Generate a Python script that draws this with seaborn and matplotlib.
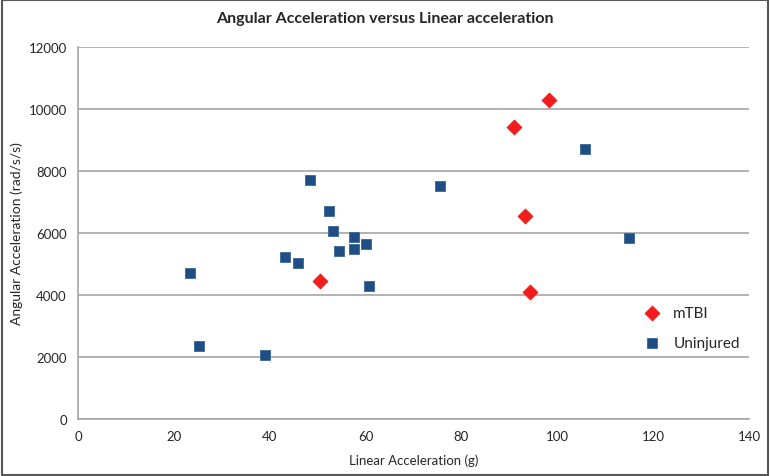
import pandas as pd
import numpy as np
import seaborn as sns
import matplotlib.pyplot as plt

# data
mtbi_linear = [98.2, 90.9, 93.2, 94.4, 50.5]
mtbi_angular = [10300, 9430, 6550, 4100, 4460]

uninj_linear = [23.4, 25.3, 39.1, 43.1, 45.8, 48.4, 52.3, 53.3, 54.5, 57.6,
                57.5, 60.0, 60.8, 75.5, 105.8, 114.9]
uninj_angular = [4710, 2370, 2050, 5210, 5030, 7720, 6700, 6060, 5410, 5870,
                 5480, 5640, 4280, 7530, 8720, 5840]

df = pd.concat([
    pd.DataFrame({"linear": mtbi_linear, "angular": mtbi_angular, "group": "mTBI"}),
    pd.DataFrame({"linear": uninj_linear, "angular": uninj_angular, "group": "Uninjured"}),
])

sns.set_style("white")
plt.rcParams['font.family'] = ['Lato', 'DejaVu Sans']

fig = plt.figure(figsize=(7.7, 4.77), dpi=100)
ax = fig.add_axes([0.1013, 0.1195, 0.8714, 0.78])

sns.scatterplot(data=df[df.group == "Uninjured"], x="linear", y="angular",
                marker="s", s=55, color="#1F4E85", edgecolor="#3A6699",
                linewidth=0.6, label="Uninjured", ax=ax, zorder=3)
sns.scatterplot(data=df[df.group == "mTBI"], x="linear", y="angular",
                marker="D", s=58, color="#F21C1C", edgecolor="#F21C1C",
                linewidth=0.6, label="mTBI", ax=ax, zorder=4)

ax.set_xlim(0, 140)
ax.set_ylim(0, 12000)
ax.set_xticks(range(0, 141, 20))
ax.set_yticks(range(0, 12001, 2000))
ax.yaxis.grid(True, color="#A6A6A6", linewidth=1.2)
ax.xaxis.grid(False)
for side in ["top", "right"]:
    ax.spines[side].set_visible(False)
for side in ["left", "bottom"]:
    ax.spines[side].set_color("#A6A6A6")
    ax.spines[side].set_linewidth(1.2)
ax.tick_params(length=0, labelsize=9.5, pad=8)

ax.set_xlabel("Linear Acceleration (g)", fontsize=9.5, labelpad=8)
ax.set_ylabel("Angular Acceleration (rad/s/s)", fontsize=10, labelpad=4)
fig.suptitle("Angular Acceleration versus Linear acceleration",
             fontsize=11.5, fontweight="bold", y=0.975)

handles, labels = ax.get_legend_handles_labels()
order = [labels.index("mTBI"), labels.index("Uninjured")]
ax.legend([handles[i] for i in order], [labels[i] for i in order],
          frameon=False, fontsize=11, loc="upper left",
          bbox_to_anchor=(0.812, 0.34), labelspacing=1.0, handletextpad=0.4)

# outer frame around the whole chart
fig.patches.append(plt.Rectangle((0.002, 0.003), 0.996, 0.994, fill=False,
                                 edgecolor="#595959", linewidth=1.5,
                                 transform=fig.transFigure, figure=fig))

fig.savefig("out.png", dpi=100)
